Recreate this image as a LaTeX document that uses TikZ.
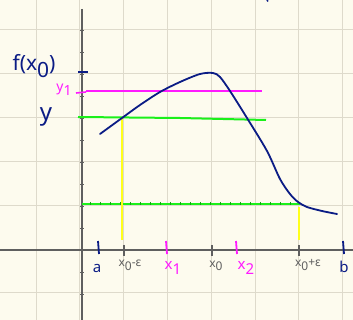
\documentclass[tikz,border=0pt]{standalone}
\usepackage{fontspec}
\setsansfont{Noto Sans}
\definecolor{paper}{HTML}{FDFBEE}
\definecolor{gridc}{HTML}{DEDACB}
\definecolor{ink}{HTML}{0B1C85}
\definecolor{mag}{HTML}{FF1AFF}
\definecolor{lime}{HTML}{1AF01A}
\definecolor{yel}{HTML}{FFFF1A}
\definecolor{pencil}{HTML}{5F5F5F}
\newcommand{\idx}[1]{\raisebox{-0.3em}{#1}}
\tikzset{
  gridline/.style={gridc,line width=1pt},
  axisline/.style={pencil,line width=1.6pt},
  curve/.style={ink,line width=1.8pt,line cap=round,line join=round},
  lbl/.style={inner sep=0pt},
  big/.style={font=\sffamily\fontsize{21}{21}\selectfont},
  mid/.style={font=\sffamily\bfseries\fontsize{15}{15}\selectfont},
  small/.style={font=\sffamily\fontsize{12}{12}\selectfont}
}
\begin{document}
\begin{tikzpicture}[x=1pt,y=-1pt]
  \useasboundingbox (0,0) rectangle (353,320);
  \fill[paper] (0,0) rectangle (353,320);
  % grid
  \foreach \k in {0,...,7}
    \draw[gridline] ({36+43.8*\k},0) -- ({36+43.8*\k},320);
  \foreach \k in {0,...,6}
    \draw[gridline] (0,{30+43.8*\k}) -- (353,{30+43.8*\k});
  % axes
  \draw[axisline] (82,9) -- (82,320);
  \draw[axisline] (0,250) -- (353,250);
  \foreach \y in {30,52,74,96,118,140,162,184,206,228,272,294}
    \draw[pencil,line width=0.8pt] (80,\y) -- (84,\y);
  % levels
  \draw[mag,line width=1.6pt] (86,91) -- (262,91);
  \draw[mag,line width=1.6pt] (76,93) -- (86,92);
  \draw[lime,line width=2pt] (78,117) -- (180,118) -- (266,120);
  \draw[lime,line width=1.6pt] (82,204) -- (300,204);
  \foreach \x in {90,100,...,290}
    \draw[lime!70!black,line width=0.5pt] (\x,202.5) -- (\x,205.5);
  \draw[yel,line width=1.8pt] (122,119) -- (122,240);
  \draw[yel,line width=1.8pt] (299,207) -- (299,240);
  % the function
  \draw[curve] plot[smooth,tension=0.5] coordinates {
    (100,134) (122,118) (140,105) (160,92) (180,82) (200,74) (213,73)
    (220,77) (230,91) (247,118) (267,151) (280,179) (290,194) (298,202)
    (307,207) (322,211) (337,214)};
  \draw[ink,line width=1.4pt] (267,0) -- (268,1.5);
  % ticks on the axes
  \draw[ink,line width=1.8pt] (78,72) -- (88,72);
  \foreach \x/\c in {98/ink,343/ink,166/mag,236/mag}
    \draw[\c,line width=1.8pt] (\x,241) -- (\x+1,254);
  \foreach \x in {124,212,299}
    \draw[pencil,line width=1.2pt] (\x,245) -- (\x,256);
  % labels
  \node[lbl,ink,big] (fx) at (34,66) {f(x\idx{0})};
  \node[lbl,ink,font=\sffamily\fontsize{24}{24}\selectfont] (ylab) at (46,117) {y};
  \node[lbl,mag,font=\sffamily\bfseries\fontsize{14}{14}\selectfont] (ya) at (64,90) {y\idx{1}};
  \node[lbl,ink,mid] (alab) at (97,268) {a};
  \node[lbl,ink,mid] (blab) at (344,267) {b};
  \node[lbl,pencil,small] (xm) at (130,265) {x\idx{0}-ε};
  \node[lbl,pencil,small] (xz) at (216,266) {x\idx{0}};
  \node[lbl,pencil,small] (xp) at (308,265) {x\idx{0}+ε};
  \node[lbl,mag,mid] (xa) at (173,268) {x\idx{1}};
  \node[lbl,mag,mid] (xb) at (246,268) {x\idx{2}};
\end{tikzpicture}
\end{document}
